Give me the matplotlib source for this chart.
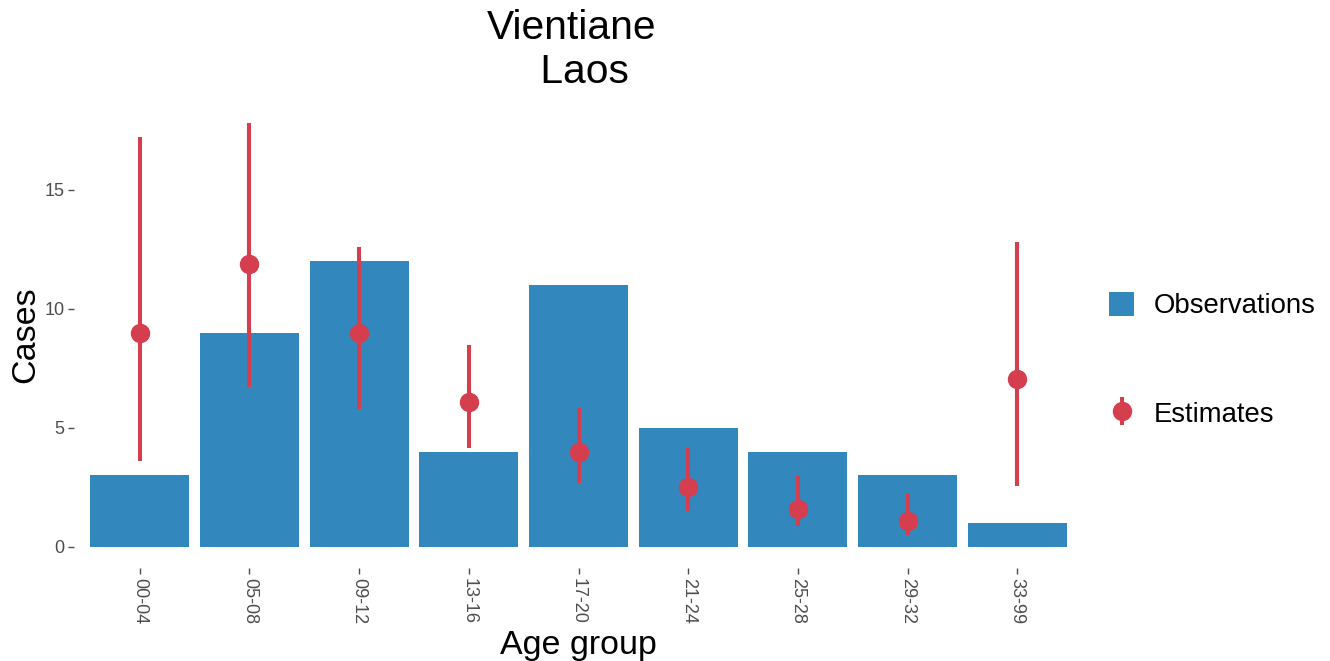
import matplotlib
matplotlib.use("Agg")
import matplotlib.pyplot as plt
import numpy as np

plt.rcParams['font.family'] = ['Liberation Sans', 'DejaVu Sans']

age_groups = ["00-04", "05-08", "09-12", "13-16", "17-20", "21-24", "25-28", "29-32", "33-99"]
observations = [3, 9, 12, 4, 11, 5, 4, 3, 1]
est_mid = [9.0, 11.9, 9.0, 6.1, 4.0, 2.5, 1.6, 1.08, 7.05]
est_low = [3.6, 6.7, 5.8, 4.15, 2.7, 1.5, 0.88, 0.5, 2.55]
est_high = [17.2, 17.8, 12.6, 8.5, 5.85, 4.15, 2.98, 2.27, 12.8]

blue = "#3288BD"
red = "#D53E4F"
tick_col = "#4D4D4D"

W, H = 1330, 661
fig = plt.figure(figsize=(W / 100, H / 100), dpi=100)
ax = fig.add_axes([74 / W, 1 - 568 / H, (1083 - 74) / W, (568 - 102) / H])

x = np.arange(1, len(age_groups) + 1)
bars = ax.bar(x, observations, width=0.9, color=blue, label="Observations", zorder=2)
mid = np.array(est_mid)
yerr = [mid - np.array(est_low), np.array(est_high) - mid]
eb = ax.errorbar(x, mid, yerr=yerr, fmt='o', color=red, ecolor=red, elinewidth=2.9,
                 markersize=13, capsize=0, label="Estimates", zorder=3)

ax.set_xlim(0.4, len(age_groups) + 0.6)
ymax = max(est_high)
ax.set_ylim(-0.05 * ymax, ymax * 1.05)
ax.set_xticks(x)
ax.set_xticklabels(age_groups, rotation=270, fontsize=13, color=tick_col)
ax.set_yticks([0, 5, 10, 15])
ax.set_yticklabels(["0", "5", "10", "15"], fontsize=13, color=tick_col)
ax.tick_params(axis='both', length=4, width=1, color=tick_col, pad=3)
for s in ax.spines.values():
    s.set_visible(False)

ax.set_xlabel("Age group", fontsize=24.5, labelpad=4)
ax.set_ylabel("Cases", fontsize=24.5, labelpad=2)

# title (two centred lines, as in the reference)
fig.text(572 / W, 1 - 39 / H, "Vientiane", fontsize=29.3, ha='center', va='baseline')
fig.text(579 / W, 1 - 83 / H, " Laos", fontsize=29.3, ha='center', va='baseline')

# legend
fig.legend(handles=[bars, eb], labels=["Observations", "Estimates"],
           loc='center left', bbox_to_anchor=(1109 / W, 1 - 360 / H), frameon=False,
           fontsize=19.8, labelspacing=2.95, handlelength=0.92, handleheight=0.92,
           handletextpad=0.72, borderaxespad=0, borderpad=0)

fig.savefig("out.png", dpi=100)
